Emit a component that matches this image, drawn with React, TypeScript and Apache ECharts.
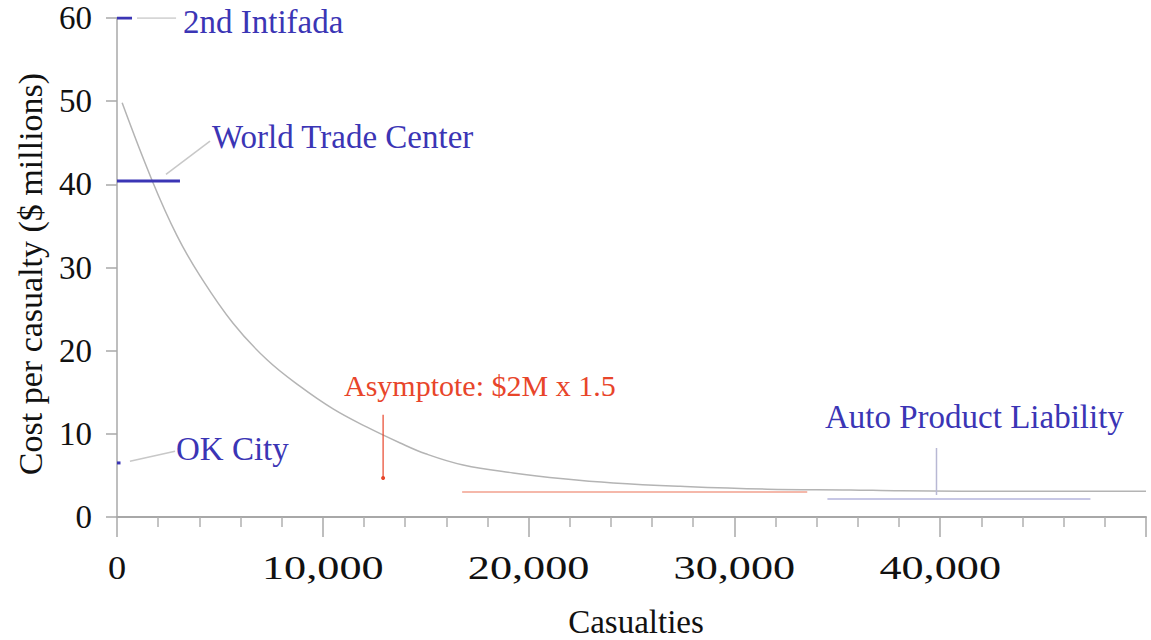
import React, { useEffect, useRef } from "react";
import * as echarts from "echarts";

// Curve: cost per casualty ($ millions) vs casualties
const curvePoints: [number, number][] = [
  [250, 49.8], [1700, 40.5], [2920, 33.8], [4035, 29.0], [5640, 23.3],
  [7290, 18.9], [8900, 15.7], [10500, 13.0], [12150, 10.8], [13760, 8.9],
  [15000, 7.6], [16820, 6.25], [19250, 5.3], [21680, 4.6], [24110, 4.1],
  [27370, 3.7], [31600, 3.35], [35630, 3.25], [38070, 3.15], [44000, 3.1], [50000, 3.1],
];

// X tick labels
const xTickValues = [0, 10000, 20000, 30000, 40000];

// Event markers (short blue bars at the y axis)
const intifadaMark: [number, number][] = [[0, 60], [730, 60]];
const wtcMark: [number, number][] = [[0, 40.4], [3060, 40.4]];
const okCityMark: [number, number][] = [[0, 6.5], [170, 6.5]];

// Leader lines
const intifadaLeader: [number, number][] = [[970, 60], [2870, 60]];
const wtcLeader: [number, number][] = [[2380, 41.2], [4520, 45.2]];
const okCityLeader: [number, number][] = [[630, 6.7], [2820, 7.9]];

// Asymptote
const asymptoteArrow: [number, number][] = [[12930, 12.3], [12930, 4.7]];
const asymptoteLine: [number, number][] = [[16770, 3.0], [33540, 3.0]];

// Auto product liability
const autoLine: [number, number][] = [[34520, 2.16], [47300, 2.16]];
const autoLeader: [number, number][] = [[39820, 8.3], [39820, 2.65]];

const yTitle = "Cost per casualty ($ millions)";
const xTitle = "Casualties";

const FONT = "'Liberation Serif', 'Times New Roman', serif";
const BLUE = "#3b35b5";
const RED = "#e8452a";

function seg(pts: [number, number][], color: string, width: number, z = 3): any {
  return {
    type: "line",
    data: pts,
    symbol: "none",
    lineStyle: { color, width },
    silent: true,
    z,
  };
}

function txt(text: string, x: number, y: number, color: string, extra: any = {}, size = 33): any {
  return {
    type: "text",
    x,
    y,
    ...extra,
    style: { text, font: `${size}px ${FONT}`, fill: color, textAlign: "left", textVerticalAlign: "middle", ...(extra.style || {}) },
  };
}

export default function App() {
  const ref = useRef<HTMLDivElement>(null);
  useEffect(() => {
    if (!ref.current) return;
    const chart = echarts.init(ref.current, undefined, { renderer: "svg" });
    chart.setOption({
      animation: false,
      backgroundColor: "#ffffff",
      grid: { left: 117, right: 5, top: 18, bottom: 123, containLabel: false },
      xAxis: {
        type: "value",
        min: 0,
        max: 50000,
        interval: 10000,
        axisLine: { show: true, lineStyle: { color: "#a8a8a8", width: 2 } },
        axisTick: { show: true, length: 20, lineStyle: { color: "#a8a8a8", width: 1.5 } },
        minorTick: { show: true, splitNumber: 5, length: 10, lineStyle: { color: "#b0b0b0", width: 1.5 } },
        splitLine: { show: false },
        axisLabel: { show: false },
      },
      yAxis: {
        type: "value",
        min: 0,
        max: 60,
        interval: 10,
        axisLine: { show: true, lineStyle: { color: "#a8a8a8", width: 1.5 } },
        axisTick: { show: true, length: 11, lineStyle: { color: "#a8a8a8", width: 1.5 } },
        splitLine: { show: false },
        axisLabel: { margin: 25, fontSize: 33, fontFamily: FONT, color: "#111" },
      },
      series: [
        {
          type: "line",
          data: curvePoints,
          symbol: "none",
          smooth: 0.4,
          lineStyle: { color: "#b4b4b4", width: 1.5 },
          z: 2,
        },
        seg(intifadaMark, BLUE, 3),
        seg(wtcMark, BLUE, 3),
        seg(okCityMark, BLUE, 3),
        seg(intifadaLeader, "#c8c8c8", 1.5),
        seg(wtcLeader, "#c8c8c8", 1.5),
        seg(okCityLeader, "#c8c8c8", 1.5),
        {
          type: "line",
          data: [
            { value: asymptoteArrow[0], symbol: "none" },
            { value: asymptoteArrow[1], symbol: "circle", symbolSize: 4 },
          ],
          lineStyle: { color: RED, width: 1.2 },
          itemStyle: { color: RED },
          silent: true,
          z: 3,
        },
        seg(asymptoteLine, "#f2a08e", 1.5),
        seg(autoLine, "#b4b4dc", 1.5),
        seg(autoLeader, "#b8b8d4", 1.5),
      ],
    });

    // X tick labels placed through the axis scale (letter-spaced look)
    const tickLabels = xTickValues.map((v) => {
      const px = chart.convertToPixel({ xAxisIndex: 0 }, v) as number;
      return {
        type: "text",
        x: px,
        y: 568,
        scaleX: v === 0 ? 1.1 : 1.34,
        style: {
          text: v.toLocaleString("en-US"),
          font: `33px ${FONT}`,
          fill: "#111",
          textAlign: "center",
          textVerticalAlign: "middle",
        },
      };
    });

    chart.setOption({
      graphic: [
        txt(yTitle, 30, 274, "#111", { rotation: Math.PI / 2, style: { textAlign: "center" } }, 34),
        txt(xTitle, 636, 622, "#111", { style: { textAlign: "center" } }),
        txt("2nd Intifada", 183, 22, BLUE),
        txt("World Trade Center", 212, 137, BLUE),
        txt("OK City", 176, 449, BLUE),
        txt("Asymptote: $2M x 1.5", 344, 385, RED, {}, 30),
        txt("Auto Product Liability", 825, 417, BLUE),
        ...tickLabels,
      ],
    });
    return () => chart.dispose();
  }, []);
  return (
    <div
      ref={ref}
      style={{ position: "fixed", left: 0, top: 0, width: 1151, height: 640, background: "#fff" }}
    />
  );
}
